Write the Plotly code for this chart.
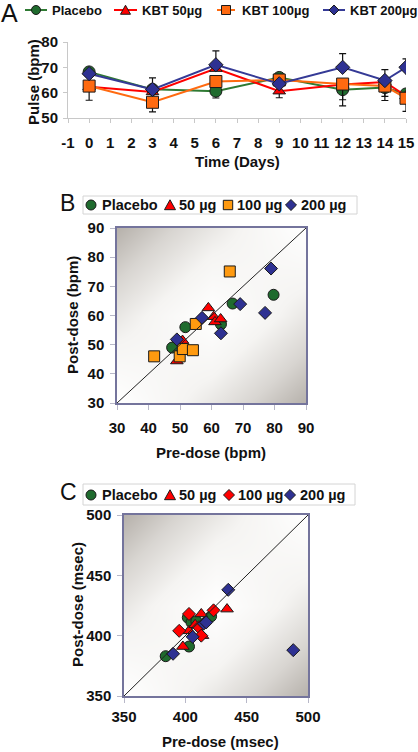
import plotly.graph_objects as go

W, H = 418, 752

# ---------------- DATA ----------------
# Panel A: pulse over time
days = [0, 3, 6, 9, 12, 14, 15]
day_ticks = list(range(-1, 16))
day_tick_labels = ["-1"] + [str(d) for d in range(0, 16)]
pulse_placebo = [68.2, 61.3, 60.6, 66.0, 61.2, 62.0, 59.5]
pulse_kbt50 = [62.3, 60.3, 69.5, 60.6, 63.2, 64.2, 58.7]
pulse_kbt100 = [62.6, 56.2, 64.4, 65.0, 63.4, 62.6, 57.8]
pulse_kbt200 = [67.5, 61.3, 71.0, 63.5, 70.0, 64.8, 70.0]
err_up_placebo = [0, 0, 0, 0, 0, 0, 0]
err_dn_placebo = [0, 0, 2.7, 0, 6.4, 3.5, 0]
err_up_kbt50 = [0, 0, 0, 0, 0, 0, 0]
err_dn_kbt50 = [0, 0, 0, 2.6, 0, 0, 0]
err_up_kbt100 = [0, 0, 0, 0, 0, 0, 0]
err_dn_kbt100 = [5.6, 3.8, 0, 0, 6.2, 5.7, 5.2]
err_up_kbt200 = [0, 4.5, 5.5, 0, 5.4, 4.3, 3.3]
err_dn_kbt200 = [0, 0, 0, 0, 0, 0, 0]
pulse_ticks = [50, 60, 70, 80]

# Panel B: pre vs post dose heart rate (bpm)
hr_pre_placebo = [47.5, 51.7, 63.0, 66.7, 79.7]
hr_post_placebo = [49.0, 56.0, 57.0, 64.1, 67.1]
hr_pre_50 = [49.0, 50.8, 59.0, 60.7, 61.1, 62.9]
hr_post_50 = [44.4, 51.4, 62.6, 59.6, 57.8, 58.8]
hr_pre_100 = [41.8, 49.9, 50.9, 54.1, 55.0, 65.8]
hr_post_100 = [46.0, 46.0, 48.5, 48.1, 57.1, 75.1]
hr_pre_200 = [49.0, 57.0, 63.0, 69.1, 77.0, 78.9]
hr_post_200 = [51.8, 59.2, 53.9, 63.9, 60.9, 76.1]
hr_ticks = [30, 40, 50, 60, 70, 80, 90]

# Panel C: pre vs post dose QTc (msec)
qt_pre_placebo = [384, 403, 402, 405, 409, 421]
qt_post_placebo = [383, 391, 415, 411, 412, 416]
qt_pre_50 = [398, 403, 408, 413, 414, 434]
qt_post_50 = [391, 404, 409, 418, 400, 422]
qt_pre_100 = [395, 403, 411, 413, 423]
qt_post_100 = [404, 418, 407, 400, 421]
qt_pre_200 = [390, 406, 415, 417, 435, 488]
qt_post_200 = [385, 399, 410, 411, 438, 388]
qt_ticks = [350, 400, 450, 500]

# ---------------- STYLE ----------------
FONT = "Liberation Sans, Arial, sans-serif"
GREEN = "#1f6b2e"
GREEN_LINE = "#2f7a33"
RED = "#ff0000"
ORANGE_A = "#ff6a10"
ORANGE_B = "#ff9a10"
BLUE = "#2e3192"
BLUE_LINE = "#353a96"
EDGE = "#1a1a1a"
TXT = "#111111"


def px(x):
    return x / W


def py(y):
    return 1 - y / H


fig = go.Figure()

# ---------- Panel A ----------
seriesA = [
    ("Placebo", pulse_placebo, err_up_placebo, err_dn_placebo, GREEN_LINE, GREEN, "circle", 12),
    ("KBT 50µg", pulse_kbt50, err_up_kbt50, err_dn_kbt50, RED, RED, "triangle-up", 11),
    ("KBT 100µg", pulse_kbt100, err_up_kbt100, err_dn_kbt100, ORANGE_A, ORANGE_A, "square", 12),
    ("KBT 200µg", pulse_kbt200, err_up_kbt200, err_dn_kbt200, BLUE_LINE, BLUE, "diamond", 11),
]
for name, vals, eu, ed, lc, mc, sym, sz in seriesA:
    fig.add_trace(go.Scatter(
        x=days, y=vals, name=name, mode="lines+markers",
        line=dict(color=lc, width=2),
        marker=dict(symbol=sym, size=sz, color=mc, line=dict(color=EDGE, width=1)),
        error_y=dict(type="data", symmetric=False, array=eu, arrayminus=ed,
                     color="#111111", thickness=1.2, width=3.5),
        xaxis="x", yaxis="y", showlegend=False,
    ))

# ---------- background gradients for B and C ----------
shade = [[0, 1, 2], [1, 0, 1], [2, 1, 0]]
grad_scale = [[0, "#ffffff"], [0.35, "#f5f4f2"], [0.7, "#d8d5d1"], [1, "#b6b1ab"]]
fig.add_trace(go.Heatmap(x=[30, 60, 90], y=[30, 60, 90], z=shade, zsmooth="best",
                         colorscale=grad_scale, showscale=False, hoverinfo="skip",
                         xaxis="x2", yaxis="y2"))
fig.add_trace(go.Heatmap(x=[350, 425, 500], y=[350, 425, 500], z=shade, zsmooth="best",
                         colorscale=grad_scale, showscale=False, hoverinfo="skip",
                         xaxis="x3", yaxis="y3"))

# ---------- Panel B ----------
seriesB = [
    ("Placebo", hr_pre_placebo, hr_post_placebo, GREEN, "circle", 11),
    ("50 µg", hr_pre_50, hr_post_50, RED, "triangle-up", 11),
    ("100 µg", hr_pre_100, hr_post_100, ORANGE_B, "square", 11),
    ("200 µg", hr_pre_200, hr_post_200, BLUE, "diamond", 10),
]
for name, xs, ys, c, sym, sz in seriesB:
    fig.add_trace(go.Scatter(
        x=xs, y=ys, name=name, mode="markers",
        marker=dict(symbol=sym, size=sz, color=c, line=dict(color=EDGE, width=1)),
        xaxis="x2", yaxis="y2", showlegend=False,
    ))

# ---------- Panel C ----------
seriesC = [
    ("Placebo", qt_pre_placebo, qt_post_placebo, GREEN, "circle", 11),
    ("50 µg", qt_pre_50, qt_post_50, RED, "triangle-up", 11),
    ("100 µg", qt_pre_100, qt_post_100, RED, "diamond", 10),
    ("200 µg", qt_pre_200, qt_post_200, BLUE, "diamond", 10),
]
for name, xs, ys, c, sym, sz in seriesC:
    fig.add_trace(go.Scatter(
        x=xs, y=ys, name=name, mode="markers",
        marker=dict(symbol=sym, size=sz, color=c, line=dict(color=EDGE, width=1)),
        xaxis="x3", yaxis="y3", showlegend=False,
    ))

tickfont = dict(family=FONT, size=15, color=TXT, weight="bold")
axA = dict(showgrid=False, zeroline=False, showline=True, linecolor="#c8c8c8", linewidth=1,
           ticks="outside", ticklen=4, tickcolor="#c8c8c8", tickfont=tickfont, automargin=False)
axBC = dict(showgrid=False, zeroline=False, showline=True, mirror=True, linecolor="#74749c",
            linewidth=1.5, ticks="outside", ticklen=5, tickcolor="#b8b8c8", tickfont=tickfont,
            automargin=False)

fig.update_layout(
    width=W, height=H, margin=dict(l=0, r=0, t=0, b=0, autoexpand=False),
    paper_bgcolor="white", plot_bgcolor="white",
    showlegend=False,
    xaxis=dict(axA, domain=[px(68), px(406)], range=[-1, 15], tickvals=day_ticks,
               ticktext=day_tick_labels, anchor="y", ticklabelstandoff=7),
    yaxis=dict(axA, domain=[py(118), py(42)], range=[50, 80], tickvals=pulse_ticks,
               anchor="x", ticklabelstandoff=2),
    xaxis2=dict(axBC, domain=[px(117), px(306)], range=[30, 90], tickvals=hr_ticks,
                anchor="y2", ticklabelstandoff=5),
    yaxis2=dict(axBC, domain=[py(403), py(228)], range=[30, 90], tickvals=hr_ticks,
                anchor="x2", ticklabelstandoff=3),
    xaxis3=dict(axBC, domain=[px(124), px(308)], range=[350, 500], tickvals=qt_ticks,
                anchor="y3", ticklabelstandoff=1),
    yaxis3=dict(axBC, domain=[py(696), py(515)], range=[350, 500], tickvals=qt_ticks,
                anchor="x3", ticklabelstandoff=3),
)

shapes = []
# identity lines
shapes.append(dict(type="line", xref="x2", yref="y2", x0=30, y0=30, x1=90, y1=90,
                   line=dict(color="#222222", width=1)))
shapes.append(dict(type="line", xref="x3", yref="y3", x0=350, y0=350, x1=500, y1=500,
                   line=dict(color="#222222", width=1)))

annotations = []


def text(x, y, s, size=15, anchor="center", angle=0, bold=True):
    annotations.append(dict(
        xref="paper", yref="paper", x=px(x), y=py(y), text=s, showarrow=False,
        xanchor=anchor, yanchor="middle", textangle=angle,
        font=dict(family=FONT, size=size, color=TXT, weight="bold" if bold else "normal"),
    ))


def circle(cx, cy, r, color):
    shapes.append(dict(type="circle", xref="paper", yref="paper",
                       x0=px(cx - r), x1=px(cx + r), y0=py(cy + r), y1=py(cy - r),
                       fillcolor=color, line=dict(color=EDGE, width=1)))


def square(cx, cy, r, color):
    shapes.append(dict(type="rect", xref="paper", yref="paper",
                       x0=px(cx - r), x1=px(cx + r), y0=py(cy + r), y1=py(cy - r),
                       fillcolor=color, line=dict(color=EDGE, width=1)))


def poly(pts, color):
    path = "M " + " L ".join(f"{px(a):.5f},{py(b):.5f}" for a, b in pts) + " Z"
    shapes.append(dict(type="path", xref="paper", yref="paper", path=path,
                       fillcolor=color, line=dict(color=EDGE, width=1)))


def triangle(cx, cy, r, color):
    poly([(cx - r, cy + r * 0.85), (cx + r, cy + r * 0.85), (cx, cy - r * 0.95)], color)


def diamond(cx, cy, r, color):
    poly([(cx - r, cy), (cx, cy - r), (cx + r, cy), (cx, cy + r)], color)


def hline(x0, x1, y, color):
    shapes.append(dict(type="line", xref="paper", yref="paper", x0=px(x0), x1=px(x1),
                       y0=py(y), y1=py(y), line=dict(color=color, width=2)))


# Panel letters
text(9, 13, "A", size=25, bold=False)
text(67, 203, "B", size=23, bold=False)
text(68, 492, "C", size=23, bold=False)

# Legend A
LY = 10
hline(25, 47, LY, GREEN_LINE); circle(36, LY, 4.5, GREEN)
text(50, LY, "Placebo", size=13, anchor="left")
hline(114, 137, LY, RED); triangle(125.5, LY, 5, RED)
text(140, LY, "KBT 50µg", size=13, anchor="left")
hline(217, 235, LY, ORANGE_A); square(226, LY, 4.5, ORANGE_A)
text(240, LY, "KBT 100µg", size=13, anchor="left")
hline(323, 345, LY, BLUE_LINE); diamond(334, LY, 5, BLUE)
text(348, LY, "KBT 200µg", size=13, anchor="left")

# Legend B (boxed)
shapes.append(dict(type="rect", xref="paper", yref="paper", x0=px(83), x1=px(357),
                   y0=py(214), y1=py(196), fillcolor="white", line=dict(color="#d4d4d4", width=1)))
BY = 205
circle(91, BY, 5, GREEN); text(100, BY, "Placebo", size=14.5, anchor="left")
triangle(170, BY, 5.5, RED); text(177, BY, "50 µg", size=14.5, anchor="left")
square(228, BY, 4.7, ORANGE_B); text(235, BY, "100 µg", size=14.5, anchor="left")
diamond(291, BY, 5.5, BLUE); text(299, BY, "200 µg", size=14.5, anchor="left")

# Legend C (boxed)
shapes.append(dict(type="rect", xref="paper", yref="paper", x0=px(83), x1=px(355),
                   y0=py(505), y1=py(484), fillcolor="white", line=dict(color="#d4d4d4", width=1)))
CY = 495
circle(91, CY, 5, GREEN); text(100, CY, "Placebo", size=14.5, anchor="left")
triangle(170, CY, 5.5, RED); text(177, CY, "50 µg", size=14.5, anchor="left")
diamond(229, CY, 5.5, RED); text(236, CY, "100 µg", size=14.5, anchor="left")
diamond(290, CY, 5.5, BLUE); text(298, CY, "200 µg", size=14.5, anchor="left")

# Axis titles
text(237, 161, "Time (Days)")
text(33, 82, "Pulse (bpm)", angle=-90)
text(211, 452, "Pre-dose (bpm)")
text(72, 315, "Post-dose (bpm)", angle=-90)
text(220, 741, "Pre-dose (msec)")
text(77, 605, "Post-dose (msec)", angle=-90)

fig.update_layout(shapes=shapes, annotations=annotations)

fig.write_html(
    "out.html",
    config={"displayModeBar": False},
    post_script=(
        "document.documentElement.style.margin='0';"
        "document.body.style.margin='0';"
        "document.body.style.padding='0';"
        "document.documentElement.style.overflow='hidden';"
        "document.body.style.overflow='hidden';"
    ),
)
